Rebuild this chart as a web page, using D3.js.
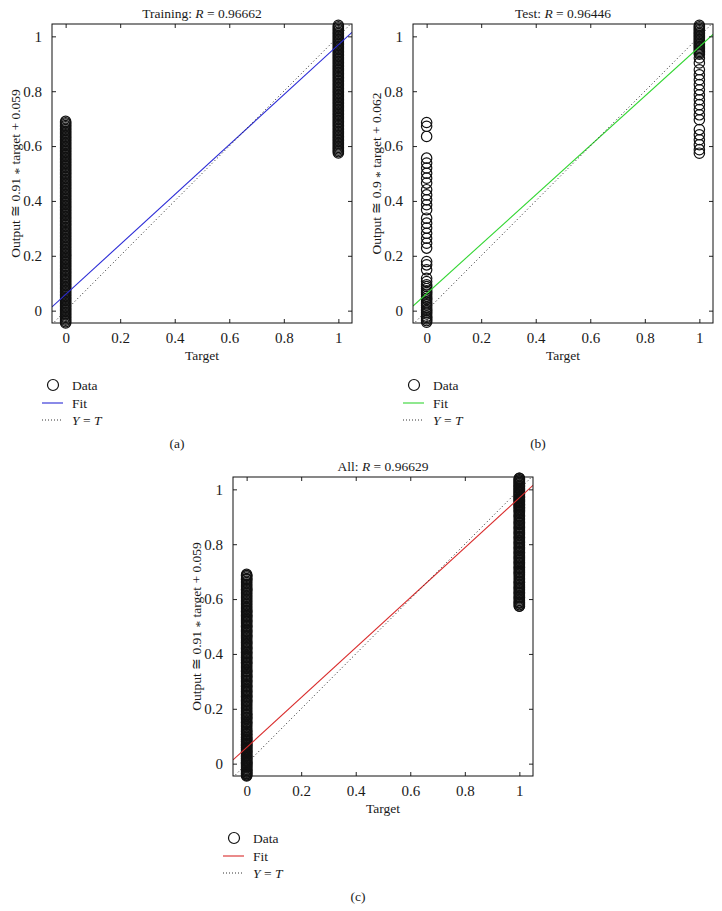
<!DOCTYPE html>
<html><head><meta charset="utf-8">
<script src="https://cdn.jsdelivr.net/npm/d3@7/dist/d3.min.js"></script>
<style>
body{margin:0;background:#fff}
svg{display:block}
text{font-family:"Liberation Serif","Times New Roman",serif;fill:#1a1a1a}
</style></head><body>
<script>
// ---------- data ----------
const ticks = [0, 0.2, 0.4, 0.6, 0.8, 1];
const tickLabels = ["0", "0.2", "0.4", "0.6", "0.8", "1"];
const panelKeys = ["(a)", "(b)", "(c)"];
const panelTitles = ["Training", "Test", "All"];
const panelR = ["0.96662", "0.96446", "0.96629"];
const fitSlope = [0.91, 0.9, 0.91];
const fitIntercept = [0.059, 0.062, 0.059];
const slopeText = ["0.91", "0.9", "0.91"];
const interceptText = ["0.059", "0.062", "0.059"];

// outputs for target = 0 and target = 1 (dense bands)
const trainZero = [
  -0.045,-0.04,-0.035,-0.03,-0.025,-0.02,-0.015,-0.01,-0.005,0,
  0.005,0.01,0.015,0.02,0.025,0.03,0.035,0.04,0.045,0.05,
  0.055,0.06,0.065,0.07,0.075,0.08,0.085,0.09,0.095,0.1,
  0.105,0.11,0.115,0.12,0.125,0.13,0.135,0.14,0.145,0.15,
  0.155,0.16,0.165,0.17,0.175,0.18,0.185,0.19,0.195,0.2,
  0.205,0.21,0.215,0.22,0.225,0.23,0.235,0.24,0.245,0.25,
  0.255,0.26,0.265,0.27,0.275,0.28,0.285,0.29,0.295,0.3,
  0.305,0.31,0.315,0.32,0.325,0.33,0.335,0.34,0.345,0.35,
  0.355,0.36,0.365,0.37,0.375,0.38,0.385,0.39,0.395,0.4,
  0.405,0.41,0.415,0.42,0.425,0.43,0.435,0.44,0.445,0.45,
  0.455,0.46,0.465,0.47,0.475,0.48,0.485,0.49,0.495,0.5,
  0.505,0.51,0.515,0.52,0.525,0.53,0.535,0.54,0.545,0.55,
  0.555,0.56,0.565,0.57,0.575,0.58,0.585,0.59,0.595,0.6,
  0.605,0.61,0.615,0.62,0.625,0.63,0.635,0.64,0.645,0.65,
  0.655,0.66,0.665,0.67,0.675,0.68,0.685,0.69];
const trainOne = [
  0.575,0.58,0.585,0.59,0.595,0.6,0.605,0.61,0.615,0.62,
  0.625,0.63,0.635,0.64,0.645,0.65,0.655,0.66,0.665,0.67,
  0.675,0.68,0.685,0.69,0.695,0.7,0.705,0.71,0.715,0.72,
  0.725,0.73,0.735,0.74,0.745,0.75,0.755,0.76,0.765,0.77,
  0.775,0.78,0.785,0.79,0.795,0.8,0.805,0.81,0.815,0.82,
  0.825,0.83,0.835,0.84,0.845,0.85,0.855,0.86,0.865,0.87,
  0.875,0.88,0.885,0.89,0.895,0.9,0.905,0.91,0.915,0.92,
  0.925,0.93,0.935,0.94,0.945,0.95,0.955,0.96,0.965,0.97,
  0.975,0.98,0.985,0.99,0.995,1.0,1.005,1.01,1.015,1.02,
  1.025,1.03,1.035,1.04];
const testZero = [0.686,0.672,0.635,0.556,0.538,0.52,0.501,0.483,0.465,0.441,0.422,0.404,0.386,0.368,0.337,0.319,0.301,0.282,0.264,0.246,0.228,0.179,0.167,0.149,0.118,0.106,0.094,0.088,0.08,0.072,0.066,0.06,0.052,0.045,0.04,0.032,0.025,0.02,0.012,0.005,0,-0.006,-0.012,-0.02,-0.025,-0.03,-0.036,-0.042];
const testOne = [1.04,1.035,1.03,1.025,1.02,1.015,1.01,1.005,1.0,0.995,0.99,0.985,0.98,0.975,0.97,0.965,0.96,0.955,0.95,0.945,0.94,0.935,0.921,0.903,0.878,0.86,0.842,0.824,0.805,0.787,0.769,0.751,0.733,0.714,0.696,0.66,0.641,0.623,0.605,0.587,0.574];
const allZero = trainZero.concat(testZero);
const allOne = trainOne.concat(testOne);
const zeroSets = [trainZero, testZero, allZero];
const oneSets = [trainOne, testOne, allOne];
const fitColors = ["#2b2bd6", "#33d633", "#d92b2b"];

// ---------- layout ----------
const W = 300, H = 299;
const origins = [[52, 24], [413, 24], [233, 477]];
const xDomain = [-0.05, 1.05], yDomain = [-0.045, 1.045];

const svg = d3.select("body").append("svg").attr("width", 722).attr("height", 911);

panelKeys.forEach((key, i) => {
  const [L, T] = origins[i];
  const x = d3.scaleLinear().domain(xDomain).range([L, L + W]);
  const y = d3.scaleLinear().domain(yDomain).range([T + H, T]);
  const g = svg.append("g");
  const clipId = "clip" + i;
  svg.append("clipPath").attr("id", clipId).append("rect")
    .attr("x", L).attr("y", T).attr("width", W).attr("height", H);

  // data circles
  const pts = zeroSets[i].map(v => [0, v]).concat(oneSets[i].map(v => [1, v]));
  g.append("g").selectAll("circle").data(pts).join("circle")
    .attr("cx", d => x(d[0])).attr("cy", d => y(d[1])).attr("r", 5.2)
    .attr("fill", "none").attr("stroke", "#111").attr("stroke-width", 1.2);

  // fit line
  const lines = g.append("g").attr("clip-path", `url(#${clipId})`);
  lines.append("line")
    .attr("x1", x(xDomain[0])).attr("y1", y(fitSlope[i] * xDomain[0] + fitIntercept[i]))
    .attr("x2", x(xDomain[1])).attr("y2", y(fitSlope[i] * xDomain[1] + fitIntercept[i]))
    .attr("stroke", fitColors[i]).attr("stroke-width", 1.1);
  // Y = T
  lines.append("line")
    .attr("x1", x(xDomain[0])).attr("y1", y(xDomain[0]))
    .attr("x2", x(xDomain[1])).attr("y2", y(xDomain[1]))
    .attr("stroke", "#222").attr("stroke-width", 1).attr("stroke-dasharray", "1,2.6");

  // axes (box with inward ticks)
  const fmt = (d, j) => tickLabels[j];
  g.append("g").attr("transform", `translate(0,${T + H})`)
    .call(d3.axisBottom(x).tickValues(ticks).tickFormat(fmt).tickSizeInner(-4).tickSizeOuter(0).tickPadding(9));
  g.append("g").attr("transform", `translate(0,${T})`)
    .call(d3.axisTop(x).tickValues(ticks).tickFormat("").tickSizeInner(-4).tickSizeOuter(0));
  g.append("g").attr("transform", `translate(${L},0)`)
    .call(d3.axisLeft(y).tickValues(ticks).tickFormat(fmt).tickSizeInner(-4).tickSizeOuter(0).tickPadding(10));
  g.append("g").attr("transform", `translate(${L + W},0)`)
    .call(d3.axisRight(y).tickValues(ticks).tickFormat("").tickSizeInner(-4).tickSizeOuter(0));
  g.selectAll(".domain").remove();
  g.selectAll(".tick line").attr("stroke", "#222");
  g.selectAll(".tick text").attr("font-size", 15).attr("fill", "#1a1a1a")
    .attr("font-family", '"Liberation Serif","Times New Roman",serif');
  g.append("rect").attr("x", L).attr("y", T).attr("width", W).attr("height", H)
    .attr("fill", "none").attr("stroke", "#111").attr("stroke-width", 1);

  // title
  const t = g.append("text").attr("x", L + W / 2).attr("y", T - 6)
    .attr("text-anchor", "middle").attr("font-size", 13.5);
  t.append("tspan").text(panelTitles[i] + ": ");
  t.append("tspan").attr("font-style", "italic").text("R");
  t.append("tspan").text(" = " + panelR[i]);

  // axis labels
  g.append("text").attr("x", L + W / 2).attr("y", T + H + 37)
    .attr("text-anchor", "middle").attr("font-size", 13.5).text("Target");
  const yl = g.append("text").attr("transform", `translate(${L - 32},${T + H / 2}) rotate(-90)`)
    .attr("text-anchor", "middle").attr("font-size", 13.5);
  yl.append("tspan").text("Output \u2245 " + slopeText[i] + " ");
  yl.append("tspan").attr("dy", 3).text("*");
  yl.append("tspan").attr("dy", -3).text(" target + " + interceptText[i]);

  // legend
  const ly = [T + H + 62, T + H + 80, T + H + 97];
  g.append("circle").attr("cx", L + 1).attr("cy", ly[0]).attr("r", 5.5)
    .attr("fill", "none").attr("stroke", "#111").attr("stroke-width", 1.2);
  g.append("line").attr("x1", L - 10).attr("x2", L + 11).attr("y1", ly[1]).attr("y2", ly[1])
    .attr("stroke", fitColors[i]).attr("stroke-width", 1.1);
  g.append("line").attr("x1", L - 10).attr("x2", L + 11).attr("y1", ly[2]).attr("y2", ly[2])
    .attr("stroke", "#333").attr("stroke-width", 1).attr("stroke-dasharray", "1,2");
  g.append("text").attr("x", L + 20).attr("y", ly[0] + 4.5).attr("font-size", 13.5).text("Data");
  g.append("text").attr("x", L + 20).attr("y", ly[1] + 4.5).attr("font-size", 13.5).text("Fit");
  const yt = g.append("text").attr("x", L + 20).attr("y", ly[2] + 4.5).attr("font-size", 13.5);
  yt.append("tspan").attr("font-style", "italic").text("Y");
  yt.append("tspan").text(" = ");
  yt.append("tspan").attr("font-style", "italic").text("T");

  // panel key
  g.append("text").attr("x", L + 125).attr("y", T + H + 125)
    .attr("text-anchor", "middle").attr("font-size", 13.5).text(key);
});
</script>
</body></html>
